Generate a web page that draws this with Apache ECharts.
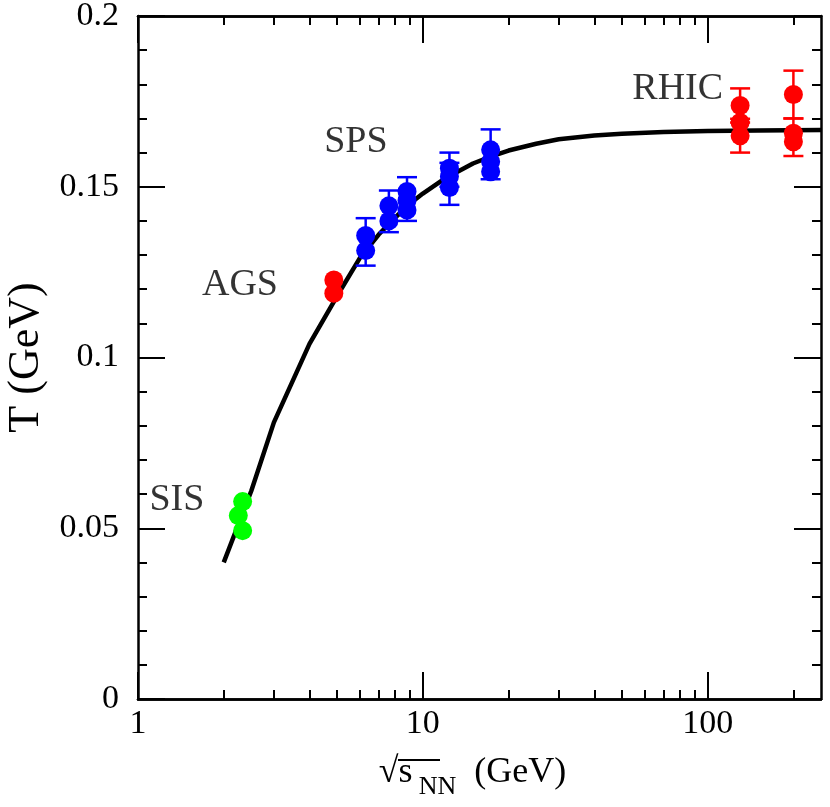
<!DOCTYPE html>
<html>
<head>
<meta charset="utf-8">
<script src="https://cdn.jsdelivr.net/npm/echarts@6/dist/echarts.min.js"></script>
<style>
  html, body { margin: 0; padding: 0; background: #fff; }
  #chart { width: 830px; height: 807px; }
</style>
</head>
<body>
<div id="chart"></div>
<script>
// freeze-out curve
const curveE = [2, 2.5, 3, 4, 5, 6, 7, 8, 9, 10, 12, 15, 17.5, 20, 25, 30, 40, 50, 70, 100, 150, 250];
const curveT = [0.040, 0.061, 0.081, 0.104, 0.118, 0.129, 0.136, 0.141, 0.145, 0.148, 0.1525, 0.1568, 0.1590, 0.1606, 0.1626, 0.1639, 0.1650, 0.1655, 0.1660, 0.1663, 0.1665, 0.1666];

// SIS (green)
const sisE = [2.33, 2.25, 2.33];
const sisT = [0.0578, 0.0537, 0.0493];

// AGS (red)
const agsE = [4.87, 4.87];
const agsT = [0.1227, 0.1188];

// SPS (blue)
const spsE = [6.3, 6.3, 7.6, 7.6, 8.8, 8.8, 8.8, 12.4, 12.4, 12.4, 17.3, 17.3, 17.3];
const spsT = [0.1357, 0.1313, 0.1444, 0.1400, 0.1486, 0.1460, 0.1432, 0.1554, 0.1530, 0.1498, 0.1608, 0.1573, 0.1544];
const spsErrE = [6.3, 7.6, 8.8, 12.4, 12.4, 17.3];
const spsErrLo = [0.1269, 0.1367, 0.1400, 0.1447, 0.1500, 0.1522];
const spsErrHi = [0.1408, 0.1489, 0.1528, 0.1570, 0.1600, 0.1668];

// RHIC (red)
const rhicE = [130, 130, 130, 200, 200, 200];
const rhicT = [0.1738, 0.1688, 0.1649, 0.1770, 0.1657, 0.1632];
const rhicErrE = [130, 130, 200, 200];
const rhicErrLo = [0.1688, 0.1600, 0.1700, 0.1590];
const rhicErrHi = [0.1788, 0.1699, 0.1840, 0.1700];

// text labels
const labelNames = ['SIS', 'AGS', 'SPS', 'RHIC'];
const labelE = [1.37, 2.28, 5.82, 78.5];
const labelT = [0.0583, 0.1212, 0.1632, 0.1785];

// axis ticks
const xMajor = [1, 10, 100];
const xMinor = [2, 3, 4, 5, 6, 7, 8, 9, 20, 30, 40, 50, 60, 70, 80, 90, 200];

const font = '"Liberation Serif", "Times New Roman", Times, serif';

function zip(a, b) {
  return a.map((v, i) => [v, b[i]]);
}
function zip3(a, b, c) {
  return a.map((v, i) => [v, b[i], c[i]]);
}

function errorBars(color) {
  return function (params, api) {
    const x = api.value(0);
    const lo = api.coord([x, api.value(1)]);
    const hi = api.coord([x, api.value(2)]);
    const w = 10;
    const style = { stroke: color, lineWidth: 2.5 };
    return {
      type: 'group',
      children: [
        { type: 'line', shape: { x1: lo[0], y1: lo[1], x2: hi[0], y2: hi[1] }, style: style },
        { type: 'line', shape: { x1: lo[0] - w, y1: lo[1], x2: lo[0] + w, y2: lo[1] }, style: style },
        { type: 'line', shape: { x1: hi[0] - w, y1: hi[1], x2: hi[0] + w, y2: hi[1] }, style: style }
      ]
    };
  };
}

function xAxisDef(pos, ticks, len, showLabel) {
  return {
    type: 'log',
    position: pos,
    min: 1,
    max: 250,
    logBase: 10,
    axisLine: { show: true, onZero: false, lineStyle: { color: '#000', width: 2.5 } },
    axisTick: { show: true, inside: true, length: len, customValues: ticks, lineStyle: { color: '#000', width: 2 } },
    minorTick: { show: false },
    splitLine: { show: false },
    axisLabel: showLabel ? {
      show: true, customValues: xMajor, color: '#000', fontFamily: font, fontSize: 34, margin: 8
    } : { show: false }
  };
}

function yAxisDef(pos, showLabel) {
  return {
    type: 'value',
    position: pos,
    min: 0,
    max: 0.2,
    interval: 0.05,
    axisLine: { show: true, onZero: false, lineStyle: { color: '#000', width: 2.5 } },
    axisTick: { show: true, inside: true, length: 27, lineStyle: { color: '#000', width: 2 } },
    minorTick: { show: true, splitNumber: 5, length: 9, lineStyle: { color: '#000', width: 2 } },
    splitLine: { show: false },
    axisLabel: showLabel ? { show: true, color: '#000', fontFamily: font, fontSize: 34, margin: 19 } : { show: false }
  };
}

let chart = echarts.init(document.getElementById('chart'));

let xBottom = xAxisDef('bottom', xMajor, 27, true);
xBottom.name = '{a|√}{s|s}{sub|NN}{a|  (GeV)}';
xBottom.nameLocation = 'middle';
xBottom.nameGap = 52;
xBottom.nameTextStyle = {
  fontFamily: font,
  color: '#000',
  padding: [0, 14, 0, 0],
  rich: {
    a: { fontFamily: font, fontSize: 36, color: '#000', lineHeight: 40 },
    s: { fontFamily: font, fontSize: 36, color: '#000', lineHeight: 40 },
    sub: { fontFamily: font, fontSize: 26, color: '#000', lineHeight: 40, padding: [28, 0, 0, 6] }
  }
};

let yLeft = yAxisDef('left', true);
yLeft.name = 'T (GeV)';
yLeft.nameLocation = 'middle';
yLeft.nameGap = 86;
yLeft.nameTextStyle = { fontFamily: font, fontSize: 44, color: '#000' };

let option = {
  animation: false,
  backgroundColor: '#fff',
  grid: { left: 138, right: 9, top: 16, bottom: 108, containLabel: false, outerBoundsMode: 'none' },
  xAxis: [
    xBottom,
    xAxisDef('bottom', xMinor, 9, false),
    xAxisDef('top', xMajor, 27, false),
    xAxisDef('top', xMinor, 9, false)
  ],
  yAxis: [yLeft, yAxisDef('right', false)],
  graphic: [
    // vinculum of the square root in the axis title
    { type: 'line', shape: { x1: 398, y1: 760, x2: 440, y2: 760 }, style: { stroke: '#000', lineWidth: 2 } }
  ],
  series: [
    {
      type: 'line',
      data: zip(curveE, curveT),
      showSymbol: false,
      smooth: false,
      lineStyle: { color: '#000', width: 4.5 },
      z: 2
    },
    {
      type: 'custom',
      renderItem: errorBars('#0000ff'),
      data: zip3(spsErrE, spsErrLo, spsErrHi),
      encode: { x: 0, y: [1, 2] },
      z: 3
    },
    {
      type: 'custom',
      renderItem: errorBars('#ff0000'),
      data: zip3(rhicErrE, rhicErrLo, rhicErrHi),
      encode: { x: 0, y: [1, 2] },
      z: 3
    },
    {
      type: 'scatter', data: zip(sisE, sisT), symbol: 'circle', symbolSize: 19,
      itemStyle: { color: '#00ff00', opacity: 1 }, z: 4
    },
    {
      type: 'scatter', data: zip(agsE, agsT), symbol: 'circle', symbolSize: 19,
      itemStyle: { color: '#ff0000', opacity: 1 }, z: 4
    },
    {
      type: 'scatter', data: zip(spsE, spsT), symbol: 'circle', symbolSize: 19,
      itemStyle: { color: '#0000ff', opacity: 1 }, z: 4
    },
    {
      type: 'scatter', data: zip(rhicE, rhicT), symbol: 'circle', symbolSize: 19,
      itemStyle: { color: '#ff0000', opacity: 1 }, z: 4
    },
    {
      type: 'scatter',
      data: labelNames.map((n, i) => ({ name: n, value: [labelE[i], labelT[i]] })),
      symbolSize: 0,
      label: {
        show: true,
        position: 'inside',
        formatter: '{b}',
        fontFamily: font,
        fontSize: 38,
        color: '#000'
      },
      z: 5
    }
  ]
};
chart.setOption(option);
</script>
</body>
</html>
